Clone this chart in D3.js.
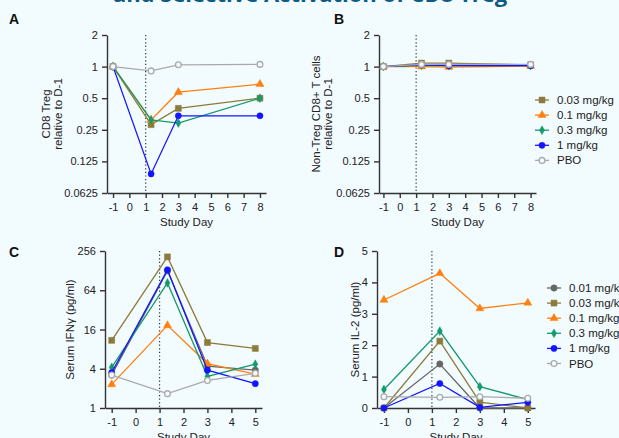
<!DOCTYPE html>
<html>
<head>
<meta charset="utf-8">
<script src="https://cdn.jsdelivr.net/npm/d3@7"></script>
<style>
  body { margin: 0; background: #f2fbfe; }
  svg { display: block; font-family: "Liberation Sans", Arial, sans-serif; }
  .axis path, .axis line { stroke: #333; stroke-width: 1.4px; }
  .axis text { fill: #222; font-size: 11px; }
  .lbl { font-size: 11.5px; fill: #222; }
  .panel { font-size: 14px; font-weight: bold; fill: #111; }
</style>
</head>
<body>
<div id="chart"></div>
<script>
// ---- data ----
var dosesAB = ["0.03 mg/kg", "0.1 mg/kg", "0.3 mg/kg", "1 mg/kg", "PBO"];
var dosesCD = ["0.01 mg/kg", "0.03 mg/kg", "0.1 mg/kg", "0.3 mg/kg", "1 mg/kg", "PBO"];
var daysAB = [-1, 1.33, 3, 8];
var daysCD = [-1, 1.33, 3, 5];
var ticksAB = [-1, 0, 1, 2, 3, 4, 5, 6, 7, 8];
var ticksCD = [-1, 0, 1, 2, 3, 4, 5];
var ticksLog2 = [0.0625, 0.125, 0.25, 0.5, 1, 2];
var ticksIfn = [1, 4, 16, 64, 256];
var ticksIl2 = [0, 1, 2, 3, 4, 5];

// panel A: CD8 Treg relative to D-1 (order of dosesAB)
var cd8Treg = [
  [1, 0.28, 0.40, 0.50],
  [1, 0.31, 0.57, 0.68],
  [1, 0.31, 0.29, 0.50],
  [1, 0.095, 0.34, 0.34],
  [1, 0.91, 1.04, 1.05]
];
// panel B: non-Treg CD8+ T cells relative to D-1
var nonTreg = [
  [1, 1.08, 1.08, 1.04],
  [1, 1.00, 0.99, 1.01],
  [1, 1.03, 1.02, 1.02],
  [1, 1.04, 1.02, 1.02],
  [1, 1.05, 1.05, 1.05]
];
// panel C: serum IFNg (order of dosesCD)
var ifng = [
  [3.2, 127, 4.4, 3.8],
  [10.9, 208, 10.1, 8.2],
  [2.3, 18.5, 4.8, 3.3],
  [4.2, 83, 3.05, 4.7],
  [3.5, 132, 3.8, 2.36],
  [3.2, 1.66, 2.65, 3.4]
];
// panel D: serum IL-2
var il2 = [
  [0, 1.40, 0, 0],
  [0, 2.13, 0.19, 0],
  [3.44, 4.29, 3.17, 3.35],
  [0.59, 2.45, 0.68, 0.27],
  [0, 0.78, 0.02, 0.18],
  [0.36, 0.34, 0.36, 0.31]
];

var style = {
  "0.01 mg/kg": { color: "#666666", sym: d3.symbolCircle, size: 32, fill: true },
  "0.03 mg/kg": { color: "#8c7b3c", sym: d3.symbolSquare, size: 36, fill: true },
  "0.1 mg/kg":  { color: "#ff8010", sym: d3.symbolTriangle, size: 28, fill: true },
  "0.3 mg/kg":  { color: "#159a6c", sym: d3.symbolDiamond, size: 22, fill: true },
  "1 mg/kg":    { color: "#1414ff", sym: d3.symbolCircle, size: 30, fill: true },
  "PBO":        { color: "#aaaaaa", sym: d3.symbolCircle, size: 26, fill: false }
};

var W = 619, H = 438;
var svg = d3.select("#chart").append("svg").attr("width", W).attr("height", H);

svg.append("text")
  .attr("x", 310).attr("y", 2)
  .attr("text-anchor", "middle")
  .style("font-family", "'Open Sans', sans-serif")
  .style("font-size", "22px").style("font-weight", "bold")
  .attr("fill", "#0d5a84")
  .text("and Selective Activation of CD8 Treg");

function drawPanel(o) {
  var g = svg.append("g");
  var x = d3.scaleLinear().domain(o.xdom).range(o.xr);
  var y = (o.log ? d3.scaleLog().base(2) : d3.scaleLinear()).domain(o.ydom).range(o.yr);

  g.append("g").attr("class", "axis")
    .attr("transform", "translate(0," + o.yr[0] + ")")
    .call(d3.axisBottom(x).tickValues(o.xticks).tickSize(5).tickSizeOuter(0).tickFormat(function(d) { return String(d); }))
    .selectAll("text").attr("dy", "0.9em");

  g.append("g").attr("class", "axis")
    .attr("transform", "translate(" + o.xr[0] + ",0)")
    .call(d3.axisLeft(y).tickValues(o.yticks).tickSize(5).tickSizeOuter(0).tickFormat(function(d) { return String(d); }))
    .selectAll("text").attr("dx", "-0.1em");

  // day-1 dosing line
  g.append("line")
    .attr("x1", x(1)).attr("x2", x(1))
    .attr("y1", o.yr[1]).attr("y2", o.yr[0])
    .attr("stroke", "#333").attr("stroke-width", 1.2)
    .attr("stroke-dasharray", "1.2,2.4");

  var line = d3.line().x(function(d) { return x(d[0]); }).y(function(d) { return y(d[1]); });

  o.series.forEach(function(vals, i) {
    var s = style[o.doses[i]];
    var pts = o.days.map(function(d, j) { return [d, vals[j]]; });
    g.append("path").datum(pts)
      .attr("d", line).attr("fill", "none")
      .attr("stroke", s.color).attr("stroke-width", 1.3);
    g.selectAll(null).data(pts).enter().append("path")
      .attr("transform", function(d) { return "translate(" + x(d[0]) + "," + y(d[1]) + ")"; })
      .attr("d", d3.symbol().type(s.sym).size(s.size))
      .attr("fill", s.fill ? s.color : "#f2fbfe")
      .attr("stroke", s.color).attr("stroke-width", s.fill ? 0.5 : 1.3);
  });

  svg.append("text").attr("class", "lbl")
    .attr("x", (o.xr[0] + o.xr[1]) / 2).attr("y", o.yr[0] + 33)
    .attr("text-anchor", "middle").text("Study Day");

  var yl = svg.append("text").attr("class", "lbl")
    .attr("text-anchor", "middle")
    .attr("transform", "translate(" + o.ylx + "," + (o.yr[0] + o.yr[1]) / 2 + ") rotate(-90)");
  o.ylabel.forEach(function(t, k) {
    yl.append("tspan").attr("x", 0).attr("dy", k === 0 ? 0 : "1.05em").text(t);
  });

  svg.append("text").attr("class", "panel")
    .attr("x", o.letter[0]).attr("y", o.letter[1]).text(o.name);

  if (o.legend) {
    var lg = svg.append("g").attr("transform", "translate(" + o.legend[0] + "," + o.legend[1] + ")");
    o.doses.forEach(function(d, i) {
      var s = style[d];
      var r = lg.append("g").attr("transform", "translate(0," + i * 15.1 + ")");
      r.append("line").attr("x1", 0).attr("x2", 14).attr("stroke", s.color).attr("stroke-width", 1.3);
      r.append("path").attr("transform", "translate(7,0)")
        .attr("d", d3.symbol().type(s.sym).size(s.size))
        .attr("fill", s.fill ? s.color : "#f2fbfe")
        .attr("stroke", s.color).attr("stroke-width", s.fill ? 0.5 : 1.3);
      r.append("text").attr("class", "lbl").attr("x", 22).attr("y", 4).text(d);
    });
  }
}

drawPanel({
  name: "A", letter: [9, 24],
  xdom: [-1.37, 8.37], xr: [107, 266], xticks: ticksAB,
  log: true, ydom: [0.0625, 2], yr: [193, 35], yticks: ticksLog2,
  days: daysAB, doses: dosesAB, series: cd8Treg,
  ylabel: ["CD8 Treg", "relative to D-1"], ylx: 50
});
drawPanel({
  name: "B", letter: [334, 24],
  xdom: [-1.27, 8.33], xr: [379, 536], xticks: ticksAB,
  log: true, ydom: [0.0625, 2], yr: [193, 35], yticks: ticksLog2,
  days: daysAB, doses: dosesAB, series: nonTreg,
  ylabel: ["Non-Treg CD8+ T cells", "relative to D-1"], ylx: 320,
  legend: [535, 100]
});
drawPanel({
  name: "C", letter: [9, 257],
  xdom: [-1.28, 5.28], xr: [105, 262], xticks: ticksCD,
  log: true, ydom: [1, 256], yr: [408, 251], yticks: ticksIfn,
  days: daysCD, doses: dosesCD, series: ifng,
  ylabel: ["Serum IFN\u03b3 (pg/ml)"], ylx: 74
});
drawPanel({
  name: "D", letter: [334, 257],
  xdom: [-1.29, 5.3], xr: [377, 535], xticks: ticksCD,
  log: false, ydom: [0, 5], yr: [408, 251], yticks: ticksIl2,
  days: daysCD, doses: dosesCD, series: il2,
  ylabel: ["Serum IL-2 (pg/ml)"], ylx: 359,
  legend: [547, 288]
});
</script>
</body>
</html>
